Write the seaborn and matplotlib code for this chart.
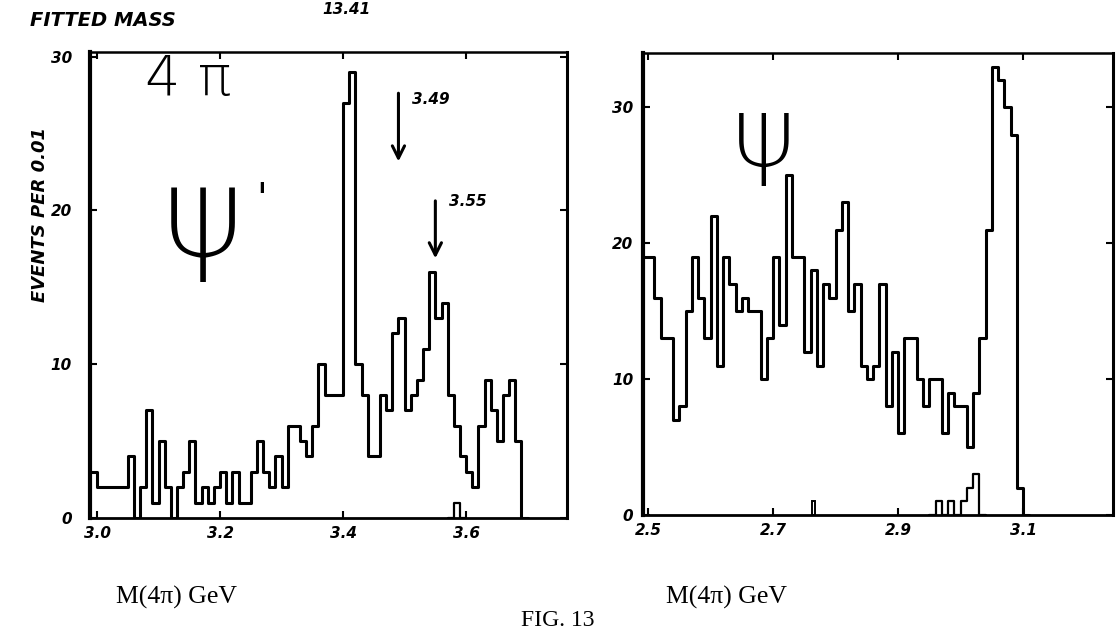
import numpy as np
import pandas as pd
import matplotlib
matplotlib.use("Agg")
import matplotlib.pyplot as plt
import seaborn as sns

# ---------------- data ----------------
bin_width = 0.01

# left panel: psi' -> 4 pi, bins start at 2.99
left_start = 2.99
left_counts = [3, 2, 2, 2, 2, 2, 4, 0, 2, 7,
               1, 5, 2, 0, 2, 3, 5, 1, 2, 1,
               2, 3, 1, 3, 1, 1, 3, 5, 3, 2,
               4, 2, 6, 6, 5, 4, 6, 10, 8, 8,
               8, 27, 29, 10, 8, 4, 4, 8, 7, 12,
               13, 7, 8, 9, 11, 16, 13, 14, 8, 6,
               4, 3, 2, 6, 9, 7, 5, 8, 9, 5, 0]
left_extra_start = 3.57
left_extra_counts = [0, 1, 0]

# right panel: psi -> 4 pi, bins start at 2.49
right_start = 2.49
right_counts = [19, 19, 16, 13, 13, 7, 8, 15, 19, 16,
                13, 22, 11, 19, 17, 15, 16, 15, 15, 10,
                13, 19, 14, 25, 19, 19, 12, 18, 11, 17,
                16, 21, 23, 15, 17, 11, 10, 11, 17, 8,
                12, 6, 13, 13, 10, 8, 10, 10, 6, 9,
                8, 8, 5, 9, 13, 21, 33, 32, 30, 28,
                2, 0]
right_extra_start = 2.95
right_extra_counts = [0, 1, 0, 1, 0, 1, 2, 3, 0]
right_spike_start = 2.76
right_spike_counts = [1]

left_xticks = [3.0, 3.2, 3.4, 3.6]
left_xticklabels = ["3.0", "3.2", "3.4", "3.6"]
right_xticks = [2.5, 2.7, 2.9, 3.1]
right_xticklabels = ["2.5", "2.7", "2.9", "3.1"]
yticks = [0, 10, 20, 30]
yticklabels = ["0", "10", "20", "30"]

arrow_masses = [3.49, 3.55]
arrow_labels = ["3.49", "3.55"]

# ---------------- style ----------------
sns.set_style("white")
plt.rcParams["font.family"] = ["DejaVu Sans"]
plt.rcParams["text.color"] = "black"
plt.rcParams["axes.labelcolor"] = "black"
plt.rcParams["xtick.color"] = "black"
plt.rcParams["ytick.color"] = "black"

W, H = 1117, 631
fig = plt.figure(figsize=(W / 100, H / 100), dpi=100)
fig.patch.set_facecolor("white")


def px_axes(x0, y0, x1, y1):
    return fig.add_axes([x0 / W, (H - y1) / H, (x1 - x0) / W, (y1 - y0) / H])


axL = px_axes(90, 52, 567, 518)
axR = px_axes(643, 53, 1113, 515)


def draw_hist(ax, start, counts, lw, element="step", shrink=1.0):
    counts = np.asarray(counts, dtype=float)
    edges = start + bin_width * np.arange(len(counts) + 1)
    centers = 0.5 * (edges[:-1] + edges[1:])
    df = pd.DataFrame({"mass": centers, "events": counts})
    sns.histplot(data=df, x="mass", weights="events", bins=list(edges),
                 element=element, fill=False, color="black", linewidth=lw,
                 ax=ax, shrink=shrink)


draw_hist(axL, left_start, left_counts, 2.2)
draw_hist(axL, left_extra_start, left_extra_counts, 1.6)
draw_hist(axR, right_start, right_counts, 2.2)
draw_hist(axR, right_extra_start, right_extra_counts, 1.6)
draw_hist(axR, right_spike_start, right_spike_counts, 1.4, element="bars", shrink=0.4)

tick_font = dict(fontsize=11, fontweight="bold", fontstyle="italic", color="black")

for ax, xt, xtl, xlim, ylim, ypad in [
    (axL, left_xticks, left_xticklabels, (2.9886, 3.764), (0, 30.3), 13),
    (axR, right_xticks, right_xticklabels, (2.492, 3.244), (0, 34.0), 7),
]:
    ax.set_xlim(*xlim)
    ax.set_ylim(*ylim)
    ax.set_xticks(xt)
    ax.set_xticklabels(xtl, **tick_font)
    ax.set_yticks(yticks)
    ax.set_yticklabels(yticklabels, **tick_font)
    ax.set_xlabel("")
    ax.set_ylabel("")
    ax.tick_params(direction="in", length=5, width=1.5, top=True, right=True,
                   bottom=True, left=True, colors="black")
    ax.tick_params(axis="x", pad=6)
    ax.tick_params(axis="y", pad=ypad)
    ax.set_facecolor("white")
    for sp in ax.spines.values():
        sp.set_edgecolor("black")
        sp.set_visible(True)

# spines
for ax in (axL, axR):
    ax.spines["left"].set_linewidth(3)
    ax.spines["right"].set_linewidth(2.2)
    ax.spines["top"].set_linewidth(1.8)
    ax.spines["top"].set_linestyle((0, (3, 1)))
    ax.spines["bottom"].set_linewidth(2.0)
    ax.spines["bottom"].set_linestyle((0, (4, 1)))

# arrows with labels
arrow_spans = [(27.8, 23.0, 27.2), (20.8, 16.7, 20.6)]
for x, lab, (y0, y1, ly) in zip(arrow_masses, arrow_labels, arrow_spans):
    axL.annotate("", xy=(x, y1), xytext=(x, y0),
                 arrowprops=dict(arrowstyle="->", lw=2.2, color="black",
                                 mutation_scale=22))
    axL.text(x + 0.022, ly, lab, ha="left", va="center", **tick_font)

# texts
ital = dict(fontweight="bold", fontstyle="italic", color="black")
fig.text(30 / W, 1 - 20 / H, "FITTED MASS", fontsize=14, ha="left", va="center", **ital)
fig.text(40 / W, 1 - 215 / H, "EVENTS PER 0.01", fontsize=13, rotation=90,
         ha="center", va="center", **ital)
fig.text(346 / W, 1 - 9 / H, "13.41", fontsize=11, ha="center", va="center", **ital)

fig.text(188 / W, 1 - 80 / H, "4 π", fontsize=40, ha="center", va="center",
         fontweight="light", color="black")
fig.text(203 / W, 1 - 222 / H, "ψ", fontsize=90, ha="center", va="center",
         fontweight="light", color="black")
fig.text(262 / W, 1 - 200 / H, "'", fontsize=28, ha="center", va="center",
         color="black")
fig.text(764 / W, 1 - 140 / H, "ψ", fontsize=70, ha="center", va="center",
         fontweight="light", color="black")

serif = dict(family=["Liberation Serif", "DejaVu Serif"], fontsize=18.5, color="black")
fig.text(177 / W, 1 - 597 / H, "M(4π) GeV", ha="center", va="center", **serif)
fig.text(727 / W, 1 - 597 / H, "M(4π) GeV", ha="center", va="center", **serif)
fig.text(558 / W, 1 - 620 / H, "FIG. 13", ha="center", va="center",
         family=["Liberation Serif", "DejaVu Serif"], fontsize=17, color="black")

fig.savefig("out.png", dpi=100, facecolor="white")
